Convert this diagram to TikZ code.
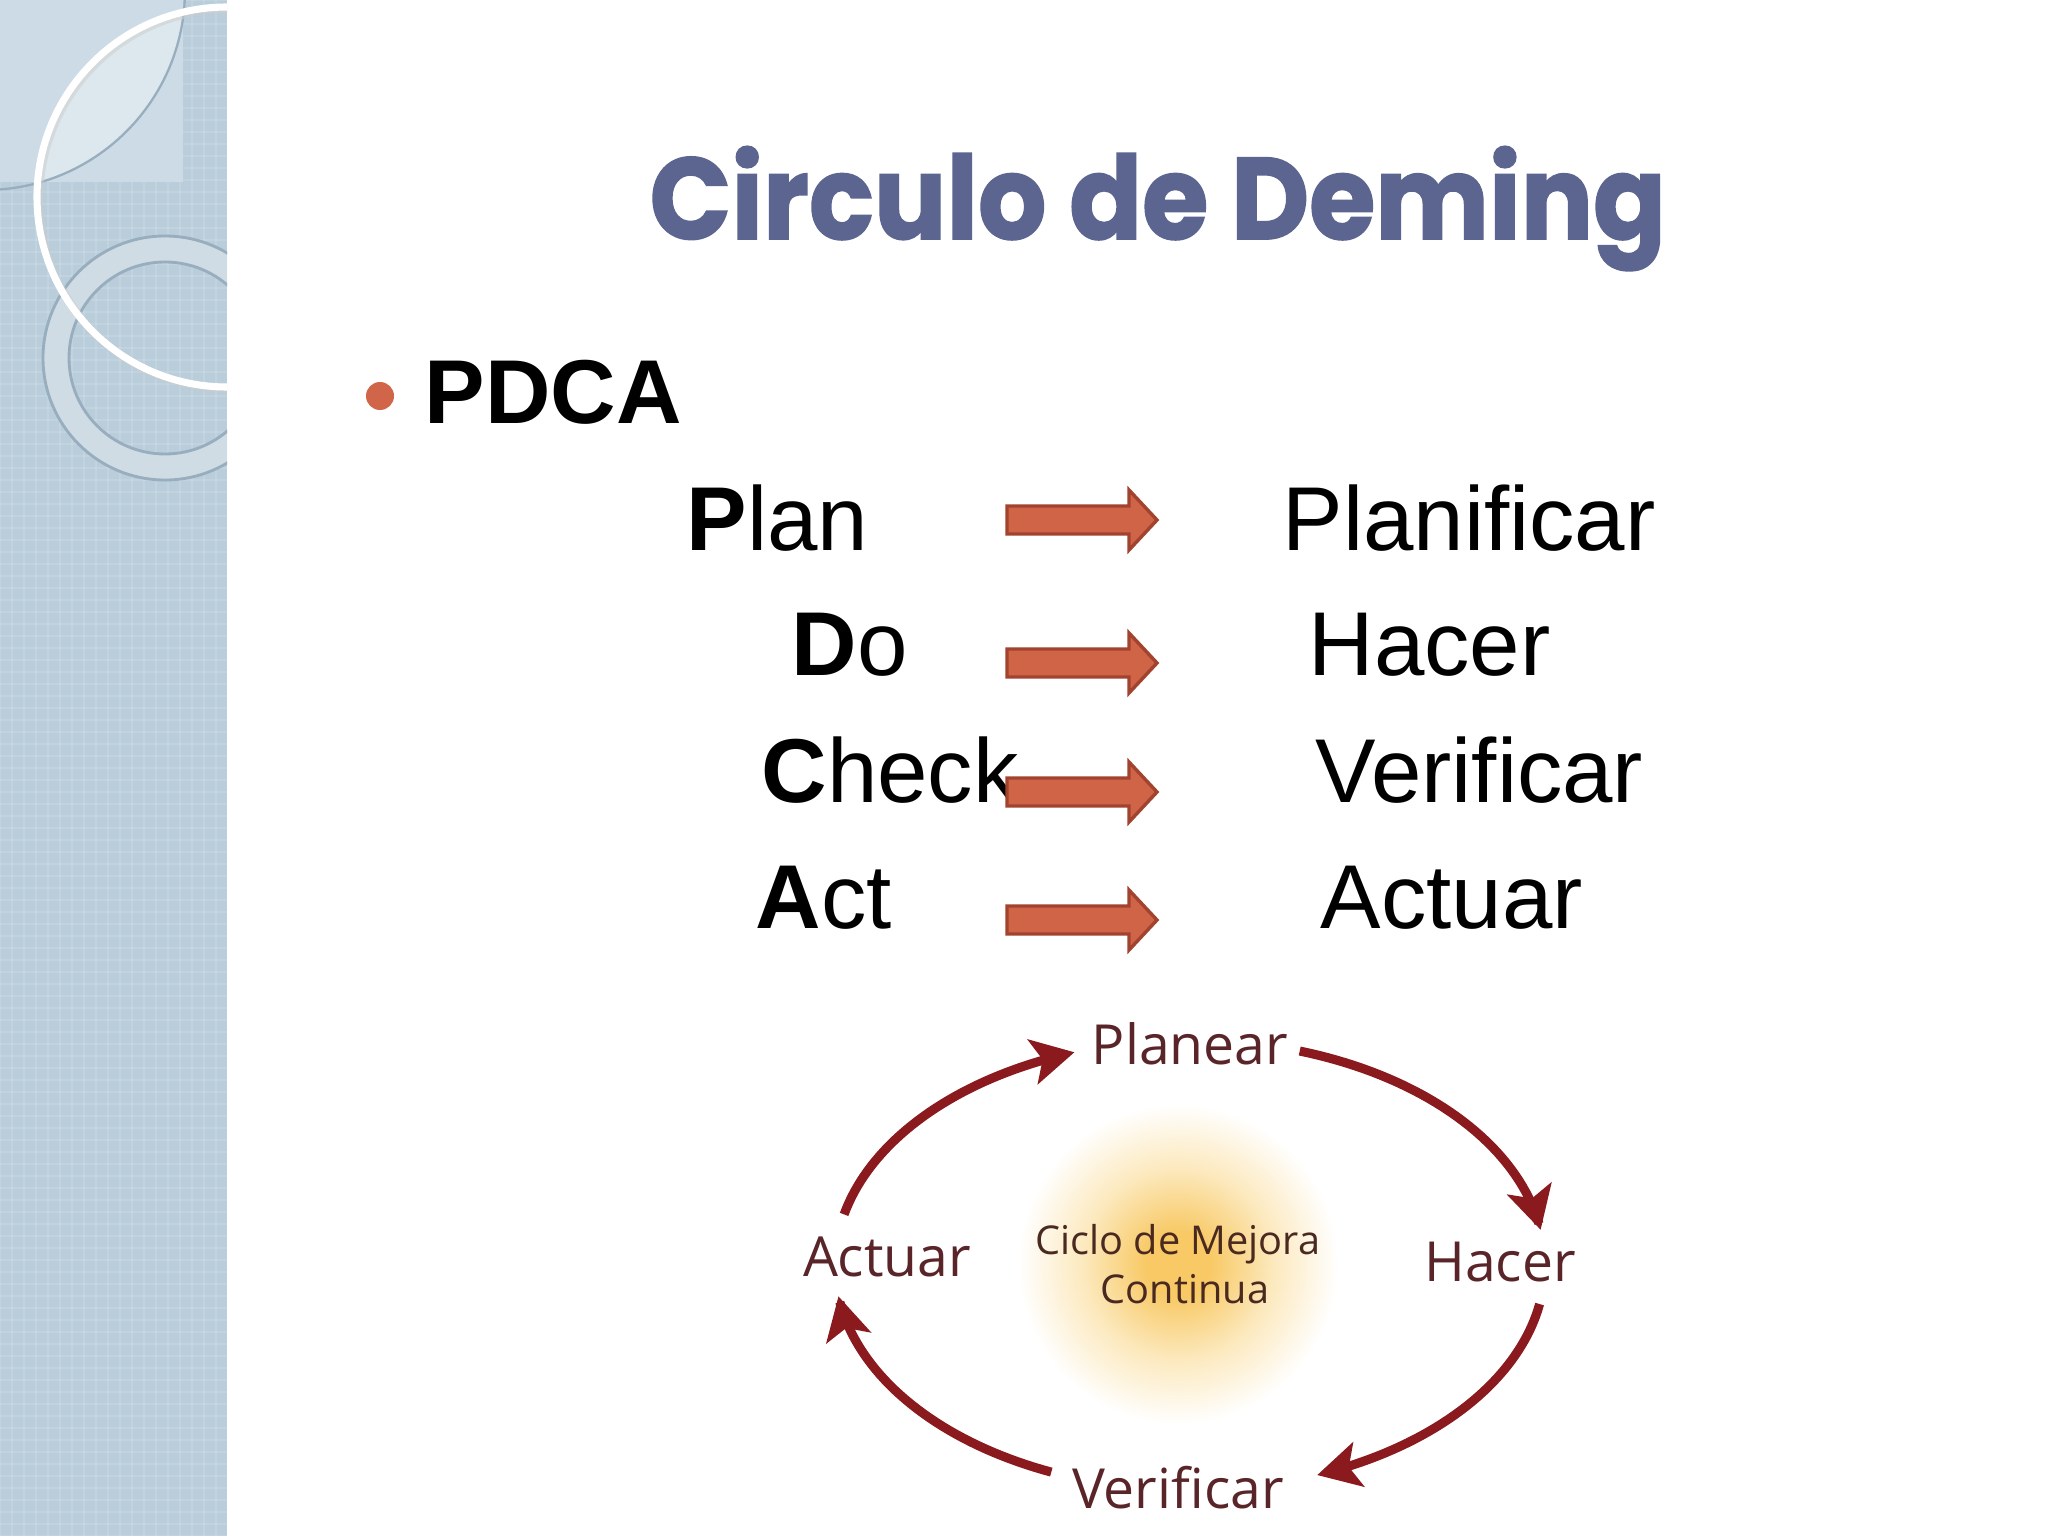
\documentclass[tikz,border=0pt]{standalone}
\usepackage{fontspec}
\setmainfont{Liberation Sans}
\newfontfamily\titlefont{Poppins}
\newfontfamily\cyclefont{Open Sans}
\usetikzlibrary{arrows.meta}
\definecolor{panelc}{HTML}{B9CDDB}
\definecolor{panellight}{HTML}{CCDBE5}
\definecolor{ringc}{HTML}{D2DEE6}
\definecolor{ringedge}{HTML}{98AEBE}
\definecolor{titlec}{HTML}{5B6590}
\definecolor{bulletc}{HTML}{D0654A}
\definecolor{arrfill}{HTML}{CF6446}
\definecolor{arredge}{HTML}{A2432F}
\definecolor{cycred}{HTML}{8A1A1E}
\definecolor{cyctext}{HTML}{5A2529}
\definecolor{centertext}{HTML}{4A2A20}
\definecolor{glowc}{HTML}{F8C965}
\definecolor{glowmid}{HTML}{FCE9BE}
\pgfdeclareradialshading{glowsh}{\pgfpoint{0bp}{0bp}}{color(0bp)=(glowc); color(5bp)=(glowc); color(15bp)=(glowmid); color(25bp)=(white); color(50bp)=(white)}
\begin{document}
\begin{tikzpicture}[x=0.35288pt,y=-0.35288pt,
  word/.style={anchor=base west, inner sep=0pt, font=\fontsize{32}{38}\selectfont},
  blockarrow/.style={fill=arrfill, draw=arredge, line width=1.2pt, line join=miter},
  cyclabel/.style={anchor=base, inner sep=0pt, text=cyctext, font=\cyclefont\fontsize{19.5}{23}\selectfont},
  cycarrow/.style={draw=cycred, line width=3.2pt, -{Stealth[length=15pt, width=16pt, inset=3.5pt]}},
  centerlabel/.style={anchor=base, inner sep=0pt, text=centertext, font=\cyclefont\fontsize{14}{17}\selectfont}]
\useasboundingbox (0,0) rectangle (2048,1536);
\fill[white] (0,0) rectangle (2048,1536);
% ---------- left decorative panel ----------
\begin{scope}
\clip (0,0) rectangle (227,1536);
\fill[panelc] (0,0) rectangle (227,1536);
\foreach \i in {0,12,...,228} {\draw[white, opacity=0.12, line width=0.5pt] (\i,0) -- (\i,1536);}
\foreach \j in {0,12,...,1536} {\draw[white, opacity=0.12, line width=0.5pt] (0,\j) -- (227,\j);}
\fill[panellight] (0,0) rectangle (183,182);
\begin{scope}
\clip (227,197) circle[radius=190];
\fill[white, opacity=0.35] (-15,-10) circle[radius=200];
\end{scope}
\draw[ringedge, line width=0.8pt] (-15,-10) circle[radius=200];
\fill[ringc, opacity=0.9, even odd rule] (165,358) circle[radius=122] (165,358) circle[radius=96];
\draw[ringedge, line width=1pt] (165,358) circle[radius=122];
\draw[ringedge, line width=1pt] (165,358) circle[radius=96];
\draw[gray!40, line width=3pt, opacity=0.5] (229,199) circle[radius=190];
\draw[white, line width=2.5pt] (227,197) circle[radius=190];
\end{scope}
% ---------- title ----------
\node[anchor=base west, inner sep=0pt, text=titlec] (title) at (649,239)
  {\resizebox{358.6pt}{32.7pt}{\titlefont\bfseries\addfontfeature{FakeBold=1.5}Circulo de Deming}};
% ---------- PDCA ----------
\fill[bulletc] (380,396) circle[radius=14];
\node[word, font=\bfseries\fontsize{32}{38}\selectfont] (pdca) at (424,423) {PDCA};
\node[word] (plan) at (686,550) {\textbf{P}lan};
\node[word] (do) at (791,675) {\textbf{D}o};
\node[word] (check) at (761,802) {\textbf{C}heck};
\node[word] (act) at (755,928) {\textbf{A}ct};
\node[word] (planificar) at (1282,550) {Planificar};
\node[word] (hacer) at (1308,675) {Hacer};
\node[word] (verificar) at (1315,802) {Verificar};
\node[word] (actuar) at (1320,928) {Actuar};
\foreach \yc/\nm in {520/a1, 663/a2, 792/a3, 920/a4} {
  \draw[blockarrow] (1007,\yc-14) -- (1129,\yc-14) -- (1129,\yc-30) -- (1157,\yc)
     -- (1129,\yc+30) -- (1129,\yc+14) -- (1007,\yc+14) -- cycle;
  \coordinate (\nm) at (1082,\yc);
}
% ---------- cycle ----------
\shade[shading=glowsh] (1178,1264) circle[radius=160];
\node[cyclabel] (planear) at (1190,1064) {Planear};
\node[cyclabel] (cactuar) at (887,1276) {Actuar};
\node[cyclabel] (chacer) at (1500,1281) {Hacer};
\node[cyclabel] (cverificar) at (1178,1508) {Verificar};
\node[centerlabel] (ciclo) at (1178,1254) {Ciclo de Mejora};
\node[centerlabel] (continua) at (1185,1303) {Continua};
\draw[cycarrow] plot[domain=193:251, samples=40, variable=\t] ({1190+355*cos(\t)},{1265+225*sin(\t)});
\draw[cycarrow] plot[domain=288:351, samples=40, variable=\t] ({1190+355*cos(\t)},{1265+225*sin(\t)});
\draw[cycarrow] plot[domain=10:69, samples=40, variable=\t] ({1190+355*cos(\t)},{1265+225*sin(\t)});
\draw[cycarrow] plot[domain=113:172, samples=40, variable=\t] ({1190+355*cos(\t)},{1265+225*sin(\t)});
\end{tikzpicture}
\end{document}
